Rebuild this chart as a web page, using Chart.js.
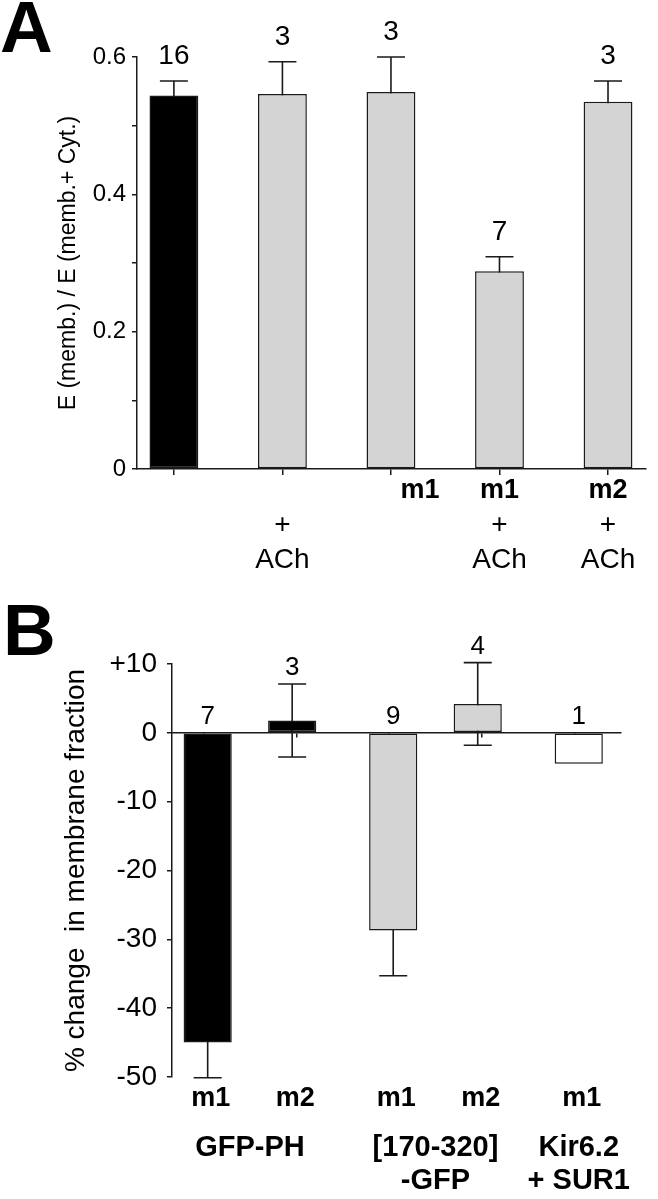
<!DOCTYPE html>
<html>
<head>
<meta charset="utf-8">
<script src="https://cdn.jsdelivr.net/npm/chart.js@4.4.0/dist/chart.umd.min.js"></script>
<style>
  html, body { margin: 0; padding: 0; background: #fff; }
  .panel { position: relative; width: 658px; }
  #panelA { height: 590px; }
  #panelB { height: 609px; }
</style>
</head>
<body>
<div class="panel" id="panelA"><canvas id="chartA"></canvas></div>
<div class="panel" id="panelB"><canvas id="chartB"></canvas></div>
<script>
// ---- panel A data ----
const conditionsA = ['control', '+ ACh', 'm1', 'm1 + ACh', 'm2 + ACh'];
const receptorRowA = ['', '', 'm1', 'm1', 'm2'];
const plusRowA = ['', '+', '', '+', '+'];
const agonistRowA = ['', 'ACh', '', 'ACh', 'ACh'];
const ratioA = [0.544, 0.546, 0.549, 0.288, 0.535];
const semA = [0.021, 0.047, 0.051, 0.021, 0.030];
const nA = [16, 3, 3, 7, 3];
const yTicksA = [0, 0.2, 0.4, 0.6];

// ---- panel B data ----
const constructsB = [['GFP-PH'], ['[170-320]', '-GFP'], ['Kir6.2', '+ SUR1']];
const receptorsB = ['m1', 'm2'];
const m1Change = [-45, -28.7, -4.5];
const m1Sem = [5.1, 6.6, null];
const m1N = [7, 9, 1];
const m2Change = [1.8, 4.2, null];
const m2Sem = [5.3, 6.0, null];
const m2N = [3, 4, null];

const FONT = "'Liberation Sans', Arial, Helvetica, sans-serif";
const INK = '#1a1a1a';
const BLACK = '#000000';
const GRAY = '#d4d4d4';
const WHITE = '#ffffff';

Chart.defaults.font.family = FONT;
Chart.defaults.color = '#000';

// error bars are drawn under the bars, so the inner half is hidden
const errorBars = {
  id: 'errorBars',
  beforeDatasetsDraw(chart) {
    const ctx = chart.ctx;
    const y = chart.scales.y;
    chart.data.datasets.forEach((ds, di) => {
      const meta = chart.getDatasetMeta(di);
      meta.data.forEach((bar, i) => {
        const v = ds.data[i].y, e = ds.errors[i];
        if (v == null || e == null) return;
        const t = y.getPixelForValue(v + e);
        const b = y.getPixelForValue(v - e);
        ctx.save();
        ctx.strokeStyle = INK;
        ctx.lineWidth = 1.6;
        ctx.beginPath();
        ctx.moveTo(bar.x, t); ctx.lineTo(bar.x, b);
        ctx.moveTo(bar.x - 14, t); ctx.lineTo(bar.x + 14, t);
        ctx.moveTo(bar.x - 14, b); ctx.lineTo(bar.x + 14, b);
        ctx.stroke();
        ctx.restore();
      });
    });
  }
};

// n above each bar
const countLabels = {
  id: 'countLabels',
  afterDatasetsDraw(chart, args, opts) {
    const ctx = chart.ctx;
    const y = chart.scales.y;
    chart.data.datasets.forEach((ds, di) => {
      const meta = chart.getDatasetMeta(di);
      meta.data.forEach((bar, i) => {
        const v = ds.data[i].y, e = ds.errors[i], n = ds.counts[i];
        if (v == null || n == null) return;
        let top = y.getPixelForValue(Math.max(v, 0));
        if (e != null) top = Math.min(top, y.getPixelForValue(v + e));
        ctx.save();
        ctx.font = opts.size + 'px ' + FONT;
        ctx.fillStyle = '#000';
        ctx.textAlign = 'center';
        ctx.textBaseline = 'alphabetic';
        ctx.fillText(String(n), bar.x, top - opts.gap);
        ctx.restore();
      });
    });
  }
};

const panelLetter = {
  id: 'panelLetter',
  afterDraw(chart, args, opts) {
    const ctx = chart.ctx;
    ctx.save();
    ctx.font = 'bold 73px ' + FONT;
    ctx.fillStyle = '#000';
    ctx.textBaseline = 'alphabetic';
    ctx.fillText(opts.text, opts.x, opts.y);
    ctx.restore();
  }
};

// panel A: three rows of condition text under the axis
const rowLabelsA = {
  id: 'rowLabelsA',
  afterDraw(chart) {
    const ctx = chart.ctx;
    const x = chart.scales.x;
    const base = chart.chartArea.bottom;
    const rows = [
      { list: receptorRowA, font: 'bold 27px ' + FONT, dy: 22 },
      { list: plusRowA, font: '28px ' + FONT, dy: 56 },
      { list: agonistRowA, font: '28px ' + FONT, dy: 91 }
    ];
    ctx.save();
    ctx.fillStyle = '#000';
    ctx.textAlign = 'center';
    ctx.textBaseline = 'middle';
    rows.forEach(r => {
      ctx.font = r.font;
      r.list.forEach((t, i) => {
        if (!t) return;
        let px = x.getPixelForValue(i);
        // receptor alone (no agonist) sits toward the right tick
        if (i === 2) px += 29;
        ctx.fillText(t, px, base + r.dy);
      });
    });
    ctx.restore();
  }
};

// panel B: receptor under each bar, construct name under each group
const rowLabelsB = {
  id: 'rowLabelsB',
  afterDraw(chart) {
    const ctx = chart.ctx;
    const base = chart.chartArea.bottom;
    ctx.save();
    ctx.fillStyle = '#000';
    ctx.textAlign = 'center';
    ctx.textBaseline = 'middle';
    ctx.font = 'bold 27px ' + FONT;
    const groups = constructsB.map(() => []);
    chart.data.datasets.forEach((ds, di) => {
      chart.getDatasetMeta(di).data.forEach((bar, i) => {
        if (ds.data[i].y == null) return;
        ctx.fillText(ds.label, bar.x + 3, base + 22);
        groups[i].push(bar.x);
      });
    });
    ctx.font = 'bold 29px ' + FONT;
    constructsB.forEach((lines, i) => {
      const xs = groups[i];
      const cx = xs.reduce((a, b) => a + b, 0) / xs.length;
      lines.forEach((t, k) => ctx.fillText(t, cx, base + 71 + k * 33));
    });
    ctx.restore();
  }
};

const noPad = s => { s.paddingTop = 0; s.paddingBottom = 0; s.paddingLeft = 0; s.paddingRight = 0; };

// ---------- Panel A ----------
new Chart(document.getElementById('chartA'), {
  type: 'bar',
  data: {
    labels: conditionsA,
    datasets: [{
      data: ratioA.map((v, i) => ({ x: i, y: v })),
      errors: semA,
      counts: nA,
      backgroundColor: [BLACK, GRAY, GRAY, GRAY, GRAY],
      borderColor: INK,
      borderWidth: 1.5,
      borderSkipped: false,
      categoryPercentage: 1,
      barPercentage: 0.45
    }]
  },
  options: {
    responsive: true,
    maintainAspectRatio: false,
    animation: false,
    devicePixelRatio: 1,
    layout: { padding: { left: 0, right: 12, top: 57, bottom: 121 } },
    plugins: {
      legend: { display: false },
      tooltip: { enabled: false },
      countLabels: { size: 28, gap: 17 },
      panelLetter: { text: 'A', x: 0, y: 52 }
    },
    scales: {
      x: {
        type: 'linear',
        offset: false,
        min: -0.34,
        max: 4.35,
        ticks: { display: false },
        grid: { drawOnChartArea: false, tickLength: 6, color: INK, lineWidth: 1.5 },
        border: { color: INK, width: 1.5 },
        afterBuildTicks: s => { s.ticks = [0.5, 1.5, 2.5, 3.5].map(v => ({ value: v })); },
        afterFit: s => { s.height = 0; noPad(s); }
      },
      y: {
        min: 0,
        max: 0.6,
        ticks: {
          stepSize: 0.1,
          padding: 6,
          font: { size: 24 },
          callback: v => {
            const hit = yTicksA.find(t => Math.abs(t - v) < 1e-6);
            return hit === undefined ? '' : (hit === 0 ? '0' : hit.toFixed(1));
          }
        },
        grid: { drawOnChartArea: false, tickLength: 5, color: INK, lineWidth: 1.5 },
        border: { color: INK, width: 1.5 },
        title: {
          display: true,
          text: 'E (memb.) / E (memb.+ Cyt.)',
          font: { size: 23 },
          padding: { top: 55, bottom: 0 }
        },
        afterFit: s => { s.width = 137; noPad(s); }
      }
    }
  },
  plugins: [errorBars, countLabels, panelLetter, rowLabelsA]
});

// ---------- Panel B ----------
const fillB = [BLACK, GRAY, WHITE];
new Chart(document.getElementById('chartB'), {
  type: 'bar',
  data: {
    labels: constructsB.map(l => l.join(' ')),
    datasets: [
      {
        label: receptorsB[0],
        data: m1Change.map((v, i) => ({ x: i, y: v })),
        errors: m1Sem,
        counts: m1N,
        backgroundColor: fillB,
        borderColor: INK,
        borderWidth: 1.5,
        borderSkipped: false,
        categoryPercentage: 0.911,
        barPercentage: 0.57
      },
      {
        label: receptorsB[1],
        data: m2Change.map((v, i) => ({ x: i, y: v })),
        errors: m2Sem,
        counts: m2N,
        backgroundColor: fillB,
        borderColor: INK,
        borderWidth: 1.5,
        borderSkipped: false,
        categoryPercentage: 0.911,
        barPercentage: 0.57
      }
    ]
  },
  options: {
    responsive: true,
    maintainAspectRatio: false,
    animation: false,
    devicePixelRatio: 1,
    layout: { padding: { left: 0, right: 37, top: 74, bottom: 122 } },
    plugins: {
      legend: { display: false },
      tooltip: { enabled: false },
      countLabels: { size: 26, gap: 9 },
      panelLetter: { text: 'B', x: 3, y: 65 }
    },
    scales: {
      x: {
        type: 'linear',
        display: false,
        offset: false,
        min: -0.42,
        max: 2.0,
        afterBuildTicks: s => { s.ticks = [0, 1, 2].map(v => ({ value: v })); }
      },
      xt: {
        type: 'linear',
        axis: 'x',
        offset: false,
        position: { y: 0 },
        min: -0.42,
        max: 2.0,
        ticks: { display: false },
        grid: { drawOnChartArea: false, tickLength: 4, color: INK, lineWidth: 1.5 },
        border: { color: INK, width: 1.5 },
        afterBuildTicks: s => { s.ticks = [0, 0.5, 1, 1.5, 2].map(v => ({ value: v })); },
        afterFit: s => { noPad(s); }
      },
      y: {
        min: -50,
        max: 10,
        ticks: {
          stepSize: 10,
          padding: 10,
          font: { size: 28 },
          callback: v => (v > 0 ? '+' + v : String(v))
        },
        grid: { drawOnChartArea: false, tickLength: 5, color: INK, lineWidth: 1.5 },
        border: { color: INK, width: 1.5 },
        title: {
          display: true,
          text: '% change  in membrane fraction',
          font: { size: 28 },
          padding: { top: 59, bottom: 0 }
        },
        afterFit: s => { s.width = 172; noPad(s); }
      }
    }
  },
  plugins: [errorBars, countLabels, panelLetter, rowLabelsB]
});
</script>
</body>
</html>
